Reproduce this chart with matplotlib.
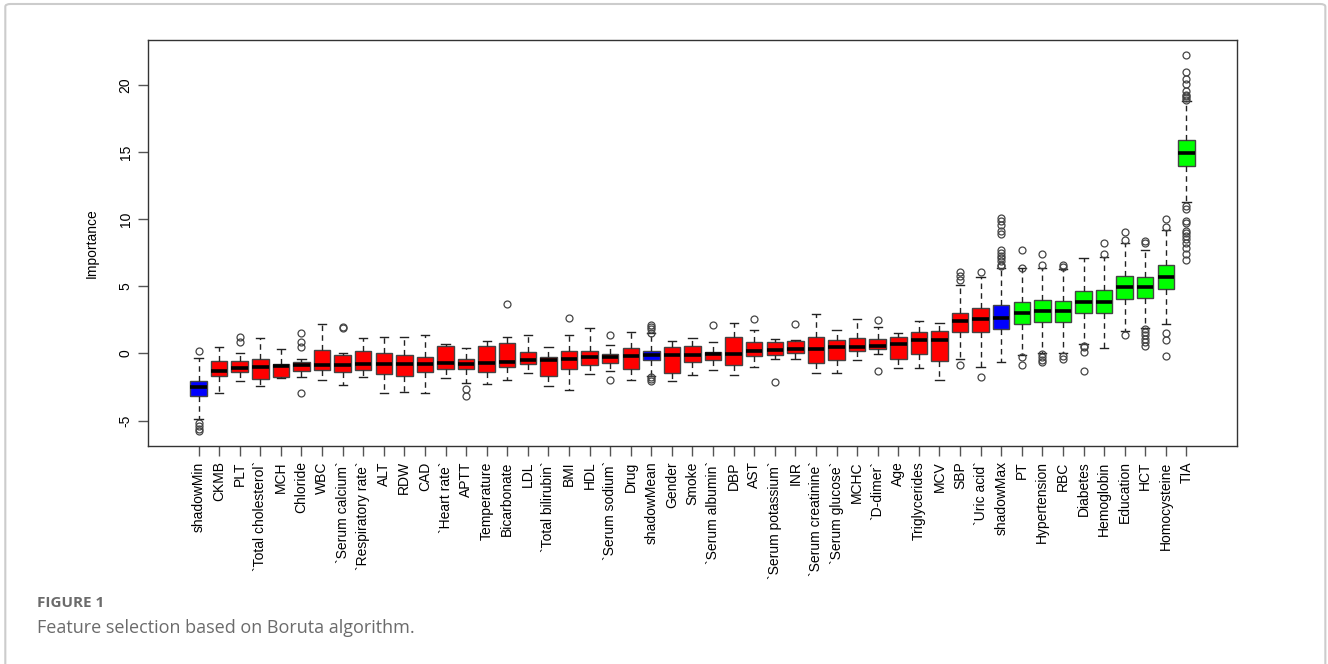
import matplotlib.pyplot as plt
from matplotlib.patches import FancyBboxPatch

plt.rcParams['font.family'] = ['Liberation Sans', 'DejaVu Sans']

features = ["shadowMin", "CKMB", "PLT", "`Total cholesterol`", "MCH", "Chloride", "WBC",
            "`Serum calcium`", "`Respiratory rate`", "ALT", "RDW", "CAD", "`Heart rate`",
            "APTT", "Temperature", "Bicarbonate", "LDL", "`Total bilirubin`", "BMI", "HDL",
            "`Serum sodium`", "Drug", "shadowMean", "Gender", "Smoke", "`Serum albumin`",
            "DBP", "AST", "`Serum potassium`", "INR", "`Serum creatinine`", "`Serum glucose`",
            "MCHC", "`D-dimer`", "Age", "Triglycerides", "MCV", "SBP", "`Uric acid`",
            "shadowMax", "PT", "Hypertension", "RBC", "Diabetes", "Hemoglobin", "Education",
            "HCT", "Homocysteine", "TIA"]

# decision per feature: S = shadow, R = rejected, C = confirmed
decision = ["S"] + ["R"] * 21 + ["S"] + ["R"] * 16 + ["S"] + ["C"] * 9

q1 = [-3.20, -1.69, -1.36, -1.93, -1.73, -1.34, -1.26, -1.36, -1.26, -1.56, -1.66, -1.39,
      -1.19, -1.19, -1.36, -1.02, -0.77, -1.69, -1.14, -0.89, -0.72, -1.19, -0.52, -1.44,
      -0.67, -0.52, -0.89, -0.17, -0.10, 0.07, -0.72, -0.47, 0.15, 0.32, -0.40, -0.05,
      -0.55, 1.59, 1.59, 1.83, 2.21, 2.38, 2.38, 3.02, 3.02, 4.09, 4.14, 4.81, 13.95]
med = [-2.53, -1.29, -1.07, -1.02, -0.94, -0.87, -0.87, -0.87, -0.82, -0.82, -0.77, -0.77,
       -0.74, -0.77, -0.69, -0.62, -0.52, -0.52, -0.45, -0.25, -0.25, -0.22, -0.12, -0.15,
       -0.10, -0.02, -0.02, 0.15, 0.27, 0.35, 0.35, 0.45, 0.47, 0.55, 0.74, 0.99,
       1.00, 2.45, 2.53, 2.65, 3.05, 3.17, 3.17, 3.82, 3.82, 4.93, 4.93, 5.68, 14.92]
q3 = [-2.03, -0.59, -0.59, -0.42, -0.77, -0.64, 0.27, -0.10, 0.20, 0.07, -0.10, -0.25,
      0.57, -0.42, 0.55, 0.79, 0.12, -0.30, 0.15, 0.20, -0.05, 0.40, 0.20, 0.45,
      0.57, 0.12, 1.19, 0.87, 0.82, 0.92, 1.24, 0.99, 1.16, 1.04, 1.24, 1.59,
      1.66, 3.05, 3.35, 3.64, 3.84, 4.01, 3.94, 4.68, 4.76, 5.77, 5.70, 6.57, 15.94]
whislo = [-4.88, -2.95, -2.08, -2.40, -1.86, -1.78, -1.98, -2.35, -1.73, -2.95, -2.90, -2.95,
          -1.86, -2.23, -2.28, -1.98, -1.49, -2.45, -2.73, -1.56, -1.31, -1.98, -1.66, -2.03,
          -1.61, -1.26, -1.61, -1.04, -0.40, -0.45, -1.44, -1.44, -0.47, -0.05, -1.07, -1.12,
          -1.98, -0.45, -1.02, -0.62, -0.12, 0.07, 0.07, 0.69, 0.40, 1.69, 1.88, 2.21, 11.30]
whishi = [-0.37, 0.50, 0.07, 1.12, 0.32, -0.45, 2.21, 0.07, 1.16, 1.24, 1.24, 1.41,
          0.69, 0.37, 0.92, 1.24, 1.41, 0.50, 1.41, 1.88, 0.62, 1.59, 1.49, 0.92,
          1.16, 0.87, 2.30, 1.78, 1.04, 0.99, 2.97, 1.73, 2.58, 1.96, 1.49, 2.45,
          2.30, 5.10, 5.72, 6.34, 6.34, 6.39, 6.27, 7.09, 7.19, 8.23, 7.73, 9.17, 18.81]
outliers = [
    [0.15, -5.2, -5.4, -5.6, -5.75], [], [1.19, 0.87], [], [], [1.54, 0.87, 0.45, -2.95], [],
    [1.98, 1.88], [], [], [], [], [], [-2.65, -3.15], [], [3.72], [], [], [2.63], [],
    [1.36, -1.98], [], [2.13, 1.98, 1.8, 1.56, -1.78, -1.91, -2.03], [], [], [2.13], [],
    [2.55], [-2.16], [2.18], [], [], [], [2.5, -1.31], [], [], [],
    [6.1, 5.77, 5.48, -0.87], [6.1, -1.78],
    [10.1, 9.9, 9.6, 9.1, 8.9, 7.7, 7.5, 7.3, 7.1, 6.9, 6.6, 6.5],
    [7.73, 6.39, -0.3, -0.87], [7.41, 6.57, -0.05, -0.3, -0.5, -0.67],
    [6.57, 6.47, -0.17, -0.42], [0.57, 0.45, 0.12, -1.29], [8.2, 7.41],
    [9.05, 8.43, 1.36], [8.35, 8.25, 1.81, 1.6, 1.36, 1.1, 0.87, 0.57],
    [10.04, 9.42, 1.51, 1.02, -0.22],
    [22.28, 20.99, 20.45, 20.1, 19.53, 19.28, 19.16, 19.03, 18.9,
     10.98, 10.73, 9.86, 9.74, 9.12, 9.0, 8.75, 8.5, 8.25, 7.88, 7.39, 7.0],
]

colors = {"S": "#0000FF", "R": "#FF0000", "C": "#00FF00"}

stats = []
for i, name in enumerate(features):
    stats.append({"label": name, "q1": q1[i], "med": med[i], "q3": q3[i],
                  "whislo": whislo[i], "whishi": whishi[i], "fliers": outliers[i]})

fig = plt.figure(figsize=(13.28, 6.64), dpi=100)
fig.patches.append(FancyBboxPatch((0.004, -0.05), 0.994, 1.044,
                                  boxstyle="round,pad=0,rounding_size=0.004",
                                  transform=fig.transFigure, fill=False,
                                  edgecolor="#cccccc", linewidth=1.5))

ax = fig.add_axes([0.1114, 0.3283, 0.8201, 0.6122])
positions = list(range(1, len(features) + 1))
bp = ax.bxp(stats, positions=positions, widths=0.8, patch_artist=True,
            boxprops=dict(edgecolor="#444444", linewidth=1.0),
            medianprops=dict(color="black", linewidth=2.6),
            whiskerprops=dict(color="#222222", linestyle=(0, (4, 3)), linewidth=1.0),
            capprops=dict(color="#222222", linewidth=1.0),
            flierprops=dict(marker="o", markersize=5, markerfacecolor="none",
                            markeredgecolor="#444444", markeredgewidth=0.9))
for box, d in zip(bp["boxes"], decision):
    box.set_facecolor(colors[d])
for cap in bp["caps"]:
    x0, x1 = cap.get_xdata()
    c = (x0 + x1) / 2
    cap.set_xdata([c - 0.2, c + 0.2])

ax.set_xlim(-1.46, 51.46)
ax.set_ylim(-6.9, 23.4)
ax.set_xticks(positions)
ax.set_xticklabels(features, rotation=90, fontsize=10)
ax.set_yticks([-5, 0, 5, 10, 15, 20])
ax.set_yticklabels(["-5", "0", "5", "10", "15", "20"], rotation=90, va="center", fontsize=10)
ax.tick_params(axis="both", direction="out", length=7, width=1.0, color="#555555", pad=4)
ax.set_ylabel("Importance", fontsize=10, labelpad=14)
for s in ax.spines.values():
    s.set_color("#333333")
    s.set_linewidth(1.0)

fig.text(0.028, 0.092, "FIGURE 1", fontsize=11, fontweight="bold", color="#6b6b6b",
         family=["Open Sans", "DejaVu Sans"], va="center")
fig.text(0.028, 0.054, "Feature selection based on Boruta algorithm.", fontsize=13,
         color="#6b6b6b", family=["Open Sans", "DejaVu Sans"], va="center")

fig.savefig("out.png", dpi=100)
